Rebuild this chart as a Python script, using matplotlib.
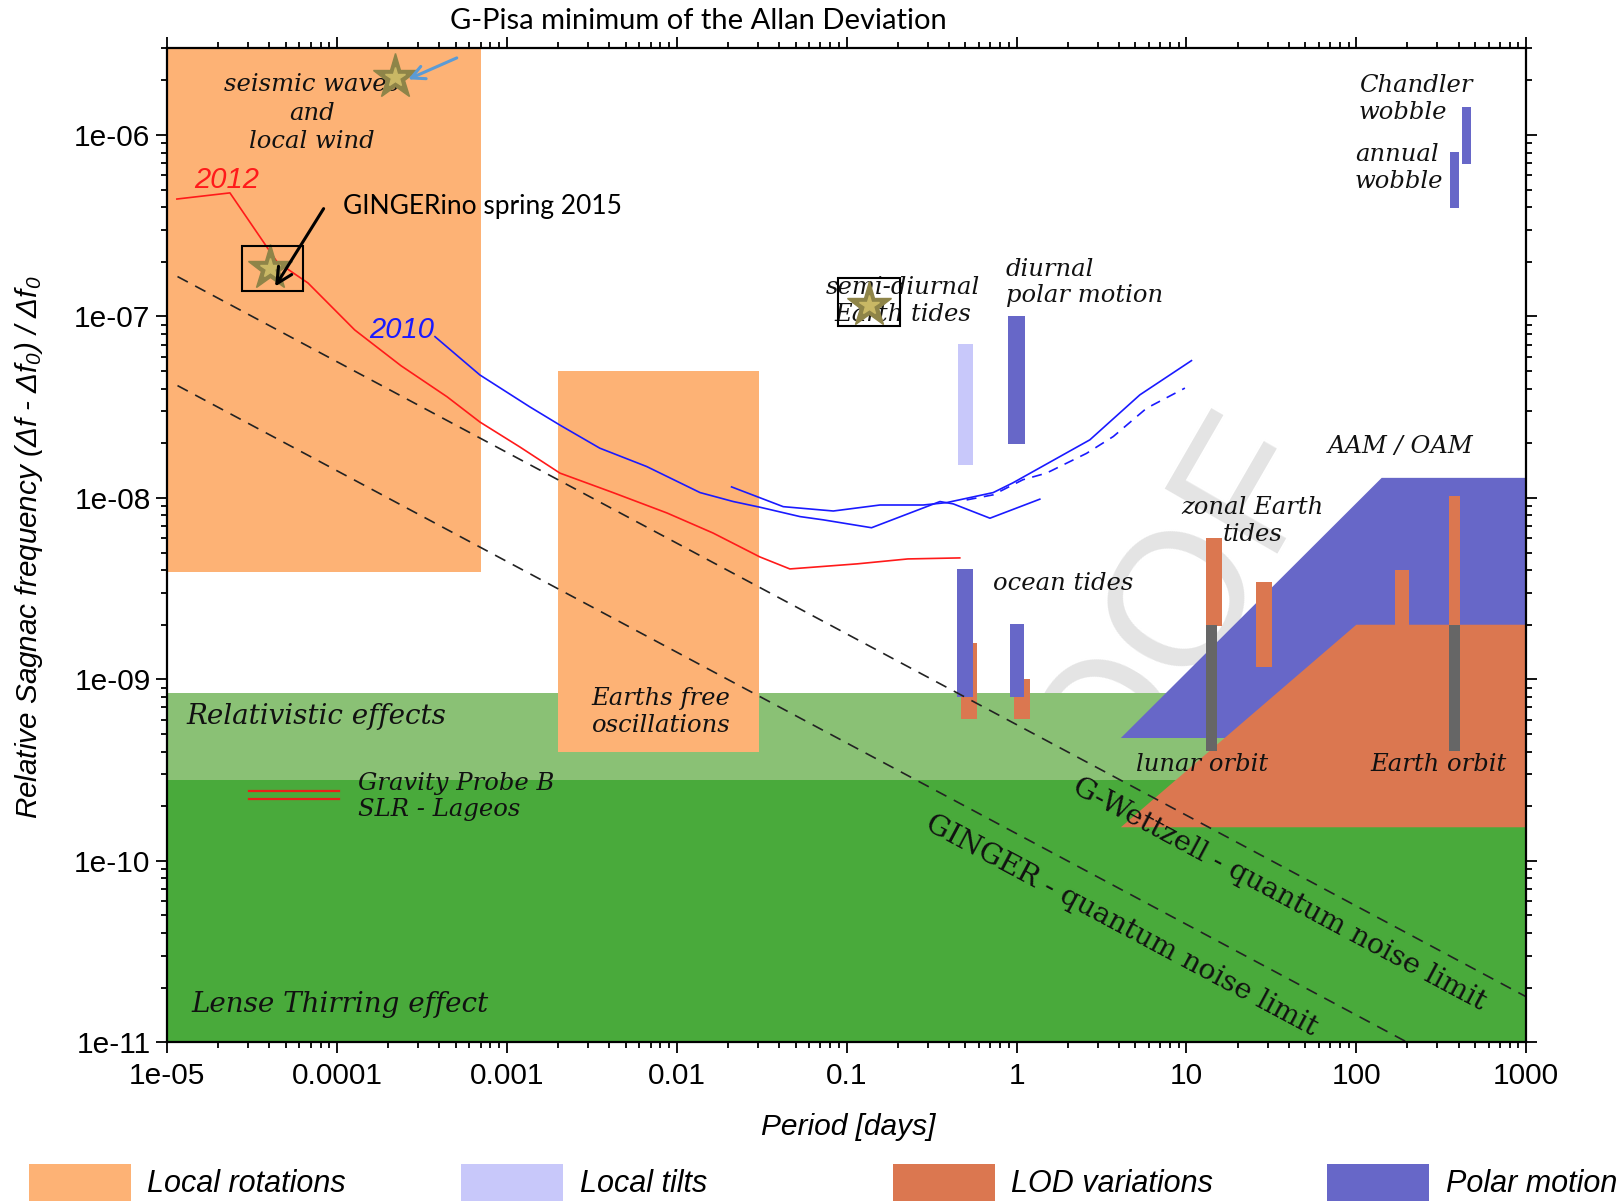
import math
import matplotlib
matplotlib.use("Agg")
import matplotlib.pyplot as plt
from matplotlib.patches import Rectangle, Polygon

plt.rcParams['mathtext.fontset'] = 'custom'
plt.rcParams['mathtext.rm'] = 'Liberation Sans:italic'
plt.rcParams['mathtext.it'] = 'Liberation Sans:italic'

# Allan deviation curves: period [days] vs relative Sagnac frequency
t_2012 = [1.14e-5, 2.34e-5, 4.43e-5, 6.74e-5, 1.27e-4, 2.38e-4, 4.44e-4, 6.93e-4, 1.19e-3,
          2.05e-3, 4.21e-3, 8.75e-3, 1.63e-2, 3.08e-2, 4.63e-2, 0.115, 0.229, 0.463]
adev_2012 = [4.44e-7, 4.80e-7, 2.00e-7, 1.53e-7, 8.43e-8, 5.35e-8, 3.61e-8, 2.62e-8, 1.91e-8,
             1.37e-8, 1.07e-8, 8.26e-9, 6.41e-9, 4.73e-9, 4.06e-9, 4.33e-9, 4.61e-9, 4.67e-9]

t_2010 = [3.77e-4, 6.93e-4, 1.36e-3, 2.05e-3, 3.52e-3, 6.64e-3, 1.37e-2, 2.15e-2, 3.08e-2,
          5.31e-2, 7.28e-2, 0.140, 0.354, 0.424, 0.697, 1.37]
adev_2010 = [7.74e-8, 4.76e-8, 3.18e-8, 2.52e-8, 1.88e-8, 1.49e-8, 1.07e-8, 9.55e-9, 8.89e-9,
             7.89e-9, 7.57e-9, 6.85e-9, 9.55e-9, 9.27e-9, 7.73e-9, 9.84e-9]

t_2010b = [2.10e-2, 4.23e-2, 8.34e-2, 0.157, 0.282, 0.387, 0.728, 0.95, 2.70, 5.32, 10.7]
adev_2010b = [1.15e-8, 8.95e-9, 8.47e-9, 9.14e-9, 9.14e-9, 9.42e-9, 1.07e-8, 1.21e-8,
              2.09e-8, 3.70e-8, 5.71e-8]

t_2010c = [0.508, 0.728, 1.09, 1.50, 2.58, 3.71, 5.82, 9.79]
adev_2010c = [9.75e-9, 1.04e-8, 1.26e-8, 1.37e-8, 1.76e-8, 2.18e-8, 3.12e-8, 4.03e-8]

# quantum noise limits
wettzell_t = [1.15e-5, 1000]
wettzell_s = [1.66e-7, 1.78e-11]
ginger_t = [1.15e-5, 199]
ginger_s = [4.16e-8, 1e-11]

# shaded regions (t0, t1, s0, s1)
local_rot_regions = [(1e-5, 7.04e-4, 3.92e-9, 3e-6), (2e-3, 0.0306, 4e-10, 5e-8)]
relativistic_band = (2.79e-10, 8.37e-10)
lense_thirring_band = (1e-11, 2.79e-10)
aam_oam_poly = [(4.11, 4.75e-10), (141, 1.29e-8), (1000, 1.29e-8), (1000, 4.75e-10)]
lod_poly = [(4.11, 1.53e-10), (100, 2.0e-9), (1000, 2.0e-9), (1000, 1.53e-10)]

# spectral lines (period, low, high)
tilt_lines = [(0.5, 1.51e-8, 7.03e-8)]
polar_lines = [(1.0, 1.99e-8, 1.0e-7), (0.5, 8.0e-10, 4.05e-9), (1.0, 8.0e-10, 2.01e-9),
               (447, 6.94e-7, 1.42e-6), (378, 3.95e-7, 8.05e-7)]
lod_lines = [(0.526, 6.05e-10, 1.59e-9), (1.07, 6.05e-10, 1.0e-9), (14.5, 1.97e-9, 6.04e-9),
             (28.6, 1.17e-9, 3.46e-9), (186, 2.0e-9, 4.0e-9), (378, 2.0e-9, 1.02e-8)]
orbit_lines = [(14.1, 4.03e-10, 2.0e-9), (378, 4.03e-10, 2.0e-9)]

# G-Pisa / GINGERino minima
star_t = [2.19e-4, 4.05e-5, 0.135]
star_s = [2.08e-6, 1.85e-7, 1.15e-7]

x_ticks = [1e-5, 1e-4, 1e-3, 1e-2, 1e-1, 1, 10, 100, 1000]
x_ticklabels = ['1e-05', '0.0001', '0.001', '0.01', '0.1', '1', '10', '100', '1000']
y_ticks = [1e-11, 1e-10, 1e-9, 1e-8, 1e-7, 1e-6]
y_ticklabels = ['1e-11', '1e-10', '1e-09', '1e-08', '1e-07', '1e-06']

legend_names = ['Local rotations', 'Local tilts', 'LOD variations', 'Polar motion']

PEACH = '#FDB275'
TILT = '#C8C8FA'
LOD = '#DB7750'
POLAR = '#6767C8'
GREY = '#666666'
LIGHT_GREEN = '#8AC175'
DARK_GREEN = '#49AA3B'

fig = plt.figure(figsize=(16.18, 12.01), dpi=100)
ax = fig.add_axes([0.10334, 0.13222, 0.83993, 0.82740])
ax.set_facecolor('none')
ax.set_xscale('log')
ax.set_yscale('log')
ax.set_xlim(1e-5, 1e3)
ax.set_ylim(1e-11, 3e-6)

# watermark behind everything
fig.text(0.6075, 0.1357, 'PROOF', fontsize=137, color='#E4E4E4', family='Liberation Sans',
         rotation=60, rotation_mode='anchor', ha='left', va='baseline', zorder=-5)

# green bands
ax.axhspan(*relativistic_band, color=LIGHT_GREEN, lw=0, zorder=1)
ax.axhspan(*lense_thirring_band, color=DARK_GREEN, lw=0, zorder=1)

for t0, t1, s0, s1 in local_rot_regions:
    ax.add_patch(Rectangle((t0, s0), t1 - t0, s1 - s0, color=PEACH, lw=0, zorder=2))

ax.add_patch(Polygon(aam_oam_poly, closed=True, color=POLAR, lw=0, zorder=2))
ax.add_patch(Polygon(lod_poly, closed=True, color=LOD, lw=0, zorder=2.1))


def vbar(t, lo, hi, w, color, z):
    f = 10 ** (w / 2)
    ax.add_patch(Rectangle((t / f, lo), t * f - t / f, hi - lo, color=color, lw=0, zorder=z))


lod_w = [0.094, 0.094, 0.092, 0.096, 0.080, 0.061]
polar_w = [0.098, 0.094, 0.082, 0.055, 0.055]
for (t, lo, hi), w in zip(lod_lines, lod_w):
    vbar(t, lo, hi, w, LOD, 3)
for (t, lo, hi), w in zip(polar_lines, polar_w):
    vbar(t, lo, hi, w, POLAR, 3.1)
for t, lo, hi in tilt_lines:
    vbar(t, lo, hi, 0.092, TILT, 3.1)
for (t, lo, hi), w in zip(orbit_lines, [0.066, 0.061]):
    vbar(t, lo, hi, w, GREY, 3.2)

# curves
ax.plot(t_2012, adev_2012, color='#FF1A1A', lw=1.2, zorder=4)
ax.plot(t_2010, adev_2010, color='#1A1AFF', lw=1.2, zorder=4)
ax.plot(t_2010b, adev_2010b, color='#1A1AFF', lw=1.2, zorder=4)
ax.plot(t_2010c, adev_2010c, color='#1A1AFF', lw=1.2, dashes=(6, 4.5), zorder=4)
ax.plot(wettzell_t, wettzell_s, color='#222222', lw=1.2, dashes=(7, 5), zorder=5)
ax.plot(ginger_t, ginger_s, color='#222222', lw=1.2, dashes=(7, 5), zorder=5)

# Gravity Probe B / LAGEOS markers
ax.plot([3.02e-5, 1.02e-4], [2.41e-10, 2.41e-10], color='#E8201A', lw=1.6, zorder=5)
ax.plot([3.02e-5, 1.02e-4], [2.20e-10, 2.20e-10], color='#E8201A', lw=1.6, zorder=5)

big = dict(family='DejaVu Serif', style='italic', fontsize=20, color='#111111', zorder=6)
serif = dict(family='DejaVu Serif', style='italic', fontsize=17.5, color='#111111', zorder=6)
ax.text(1.30e-5, 6.28e-10, 'Relativistic effects', ha='left', va='center', **big)
ax.text(1.38e-5, 1.62e-11, 'Lense Thirring effect', ha='left', va='center', **big)
ax.text(7.1e-5, 1.32e-6, 'seismic waves\nand\nlocal wind', ha='center', va='center',
        linespacing=1.29, **serif)
ax.text(1.33e-4, 2.25e-10, 'Gravity Probe B\nSLR - Lageos', ha='left', va='center',
        linespacing=1.18, **serif)
ax.text(8.1e-3, 6.6e-10, 'Earths free\noscillations', ha='center', va='center',
        linespacing=1.18, **serif)
ax.text(0.214, 1.21e-7, 'semi-diurnal\nEarth tides', ha='center', va='center',
        linespacing=1.22, **serif)
ax.text(0.865, 1.54e-7, 'diurnal\npolar motion', ha='left', va='center',
        linespacing=1.18, **serif)
ax.text(0.723, 3.36e-9, 'ocean tides', ha='left', va='center', **serif)
ax.text(24.5, 7.46e-9, 'zonal Earth\ntides', ha='center', va='center',
        linespacing=1.27, **serif)
ax.text(183.6, 1.91e-8, 'AAM / OAM', ha='center', va='center', **serif)
ax.text(12.3, 3.39e-10, 'lunar orbit', ha='center', va='center', **serif)
ax.text(304, 3.39e-10, 'Earth orbit', ha='center', va='center', **serif)
ax.text(103.5, 1.59e-6, 'Chandler\nwobble', ha='left', va='center',
        linespacing=1.22, **serif)
ax.text(98, 6.58e-7, 'annual\nwobble', ha='left', va='center', linespacing=1.18, **serif)

ax.text(1.44e-5, 5.62e-7, '2012', color='#FF1A1A', family='Liberation Sans',
        style='italic', fontsize=21, ha='left', va='center', zorder=6)
ax.text(1.55e-4, 8.43e-8, '2010', color='#1A1AFF', family='Liberation Sans',
        style='italic', fontsize=21, ha='left', va='center', zorder=6)

# labels along the quantum noise limits
fig.canvas.draw()
for tt, ss, label, pos in [(wettzell_t, wettzell_s, 'G-Wettzell - quantum noise limit', (35.3, 6.5e-11)),
                           (ginger_t, ginger_s, 'GINGER - quantum noise limit', (4.15, 4.4e-11))]:
    p1 = ax.transData.transform((tt[0], ss[0]))
    p2 = ax.transData.transform((tt[1], ss[1]))
    ang = math.degrees(math.atan2(p2[1] - p1[1], p2[0] - p1[0]))
    ax.text(pos[0], pos[1], label, family='DejaVu Serif', fontsize=20.5, color='#111111',
            rotation=ang, rotation_mode='anchor', ha='center', va='center', zorder=6)

# stars and boxes
ax.plot(star_t, star_s, ls='none', marker='*', ms=34, color='#8E8448', mec='#8E8448', zorder=7)
ax.plot(star_t, star_s, ls='none', marker='*', ms=15, color='#C9B865', mec='#C9B865', zorder=7.1)
for t0, t1, s0, s1 in [(2.74e-5, 6.34e-5, 1.38e-7, 2.46e-7), (0.0892, 0.205, 8.87e-8, 1.62e-7)]:
    ax.add_patch(Rectangle((t0, s0), t1 - t0, s1 - s0, fill=False, ec='black', lw=1.5, zorder=7.2))

ax.annotate('', xy=(4.23e-5, 1.42e-7), xytext=(8.5e-5, 4.05e-7),
            arrowprops=dict(arrowstyle='->', color='black', lw=2.2, mutation_scale=28), zorder=8)
ax.annotate('', xy=(2.53e-4, 2.0e-6), xytext=(5.24e-4, 2.7e-6),
            arrowprops=dict(arrowstyle='->', color='#5B9BD5', lw=2.2, mutation_scale=24), zorder=8)
ax.text(1.08e-4, 4.05e-7, 'GINGERino spring 2015', family='Lato', fontsize=19,
        ha='left', va='center', zorder=8)
fig.text(0.4318, 0.9828, 'G-Pisa minimum of the Allan Deviation', family='Lato', fontsize=21,
         ha='center', va='center')

# axes styling
ax.set_xticks(x_ticks)
ax.set_xticklabels(x_ticklabels)
ax.set_yticks(y_ticks)
ax.set_yticklabels(y_ticklabels)
for lab in ax.get_xticklabels() + ax.get_yticklabels():
    lab.set_family('Liberation Sans')
    lab.set_fontsize(21.5)
ax.tick_params(which='both', direction='out', top=True, right=True, width=1.3)
ax.tick_params(which='major', length=8)
ax.tick_params(which='minor', length=4)
ax.tick_params(axis='x', pad=6)
ax.tick_params(axis='y', pad=4)
for sp in ax.spines.values():
    sp.set_linewidth(1.6)
    sp.set_zorder(9)

ax.set_xlabel('Period [days]', family='Liberation Sans', style='italic', fontsize=21.5)
ax.xaxis.set_label_coords(0.501, -0.0853)
ax.xaxis.label.set_va('center')
ax.set_ylabel('Relative Sagnac frequency (Δf - Δf$_0$) / Δf$_0$', family='Liberation Sans',
              style='italic', fontsize=21.3)
ax.yaxis.set_label_coords(-0.1017, 0.4983)
ax.yaxis.label.set_va('center')

# legend row
legend_colors = [PEACH, TILT, LOD, POLAR]
patch_x = [28.9, 461.0, 892.6, 1327.0]
for name, c, px in zip(legend_names, legend_colors, patch_x):
    fig.add_artist(Rectangle((px / 1618, -0.01), 102 / 1618, 0.0408,
                             transform=fig.transFigure, color=c, lw=0))
    fig.text((px + 118.5) / 1618, 0.0145, name, family='Liberation Sans', style='italic',
             fontsize=22, ha='left', va='center')

fig.savefig('out.png', dpi=100)
